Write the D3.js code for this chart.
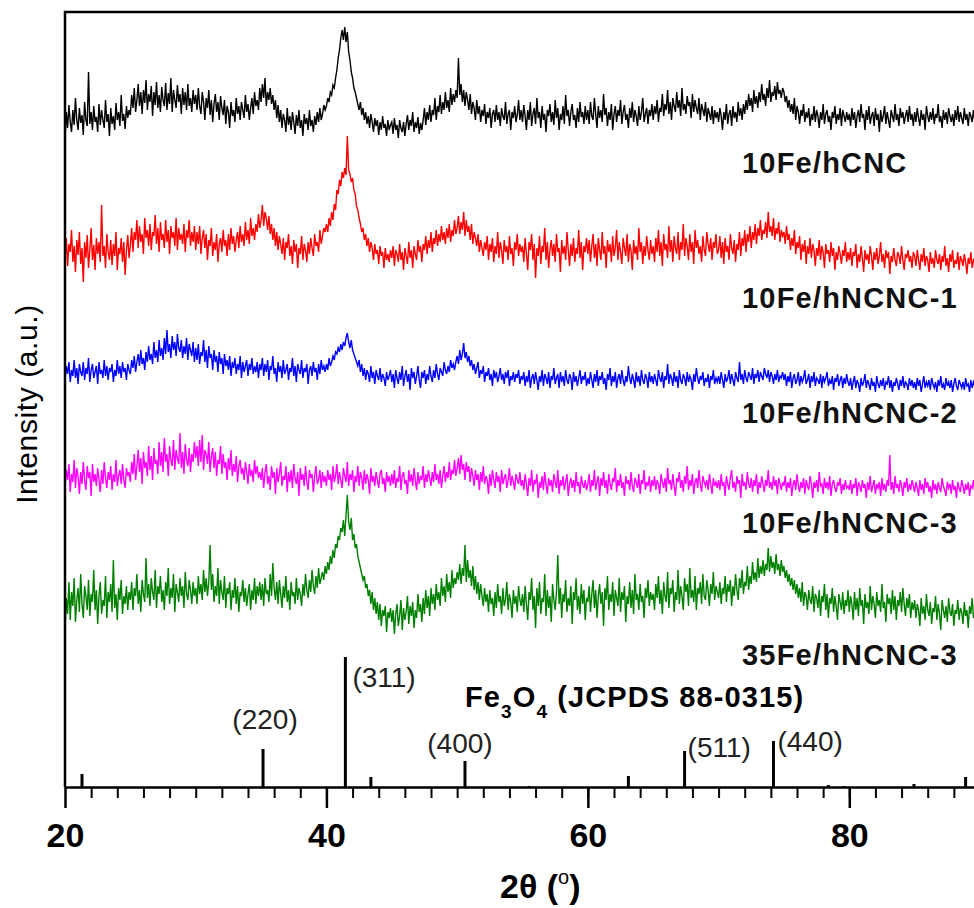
<head>
	<script src="https://d3js.org/d3.v7.min.js"></script>
	<style>
		body { margin: 0; background: #fff; }
		text { font-family: 'Liberation Sans', Arial, sans-serif; }
	</style>
</head>
<body>
	<div id='chart'></div>

	<script type="text/javascript">
		// each series: one row per 5 deg of 2theta (20-25, 25-30, ... 85-90), ~0.1 deg step
		const names = ['10Fe/hCNC', '10Fe/hNCNC-1', '10Fe/hNCNC-2', '10Fe/hNCNC-3', '35Fe/hNCNC-3']
		const colors = ['#000000', '#ff0000', '#0000ff', '#ff00ff', '#008000']
		const offsets = [637, 497, 387, 277, 147]

		const hCNC = [
			[10,38,22,45,28,18,40,25,52,30,20,42,27,35,15,48,30,24,78,26,38,20,44,28,33,18,46,25,40,30,22,50,28,36,14,42,26,34,20,47,30,38,24,55,29,36,21,44,32,40],
			[35,55,42,62,38,50,66,44,58,36,60,47,70,40,56,48,64,34,58,45,68,42,55,38,63,50,44,67,40,57,46,72,38,60,50,42,65,48,56,36,62,45,58,40,66,44,52,38,60,46],
			[55,40,62,44,36,58,48,30,52,42,60,35,50,28,46,56,38,48,30,54,42,35,50,26,44,38,22,48,34,40,28,52,36,44,30,48,40,32,55,38,46,30,42,52,36,58,44,50,40,62],
			[48,66,52,72,44,58,50,62,46,55,40,50,32,45,28,40,22,36,30,18,42,25,34,20,38,28,16,35,24,40,22,30,14,36,26,32,20,40,24,30,18,34,25,38,28,42,30,36,45,40],
			[44,52,48,58,55,65,62,72,80,92,100,112,120,110,123,108,118,98,90,78,72,62,58,52,46,40,48,35,42,30,38,26,34,22,36,28,18,32,24,30,15,28,20,34,22,26,14,30,20,25],
			[28,16,32,20,25,12,30,22,18,28,14,26,35,20,30,24,38,18,28,22,33,16,27,20,30,42,25,38,30,45,28,40,35,52,30,44,38,55,36,48,40,58,42,50,38,62,45,56,48,60],
			[52,92,55,66,48,60,44,58,50,40,56,36,48,42,30,50,36,44,28,40,34,46,26,38,32,42,22,36,40,28,45,30,38,24,42,34,30,48,26,36,40,20,38,32,44,28,35,50,30,40],
			[28,45,34,20,40,30,48,24,36,42,26,52,32,38,22,44,30,36,18,40,34,46,28,38,25,50,32,42,20,36,30,44,26,55,34,40,24,38,46,30,35,22,42,28,48,33,38,26,44,30],
			[40,26,48,34,30,52,36,22,44,32,40,28,56,35,42,24,38,30,46,20,36,44,28,40,34,50,26,38,45,30,36,22,42,32,48,28,40,34,24,44,30,38,52,28,36,42,26,40,34,46],
			[30,44,36,50,28,42,38,56,34,46,40,60,36,48,30,52,44,38,58,42,50,34,62,40,46,36,54,44,48,32,56,38,50,42,36,52,30,46,40,34,48,28,42,36,30,44,26,40,32,38],
			[28,42,34,20,38,30,46,26,36,40,24,44,32,38,28,48,34,42,30,46,36,50,40,56,44,52,38,60,46,54,42,58,48,66,50,56,44,62,52,70,48,58,54,64,50,68,56,60,52,62],
			[58,48,54,42,50,38,46,36,52,30,44,38,26,40,34,46,28,38,32,42,24,36,30,44,28,40,34,22,38,30,46,26,36,40,28,34,20,38,32,44,26,36,30,42,24,40,34,28,38,30],
			[36,24,42,30,38,22,34,40,28,46,32,36,20,40,30,44,26,34,38,24,42,30,36,18,40,28,34,44,26,38,30,22,40,34,28,46,30,36,24,42,32,38,26,34,40,28,44,30,36,24],
			[38,28,42,32,24,40,30,36,20,44,34,28,38,30,42,26,36,32,46,28,34,22,40,30,38,26,42,34,28,36,24,40,30,44,28,38,32,26,42,30,36,24,38,34,28,40,30,36,26,34]]

		const hNCNC1 = [
			[30,52,24,46,38,60,28,44,18,50,35,58,26,42,8,48,32,55,22,40,62,30,45,20,52,36,48,28,85,34,44,22,56,38,30,50,25,46,34,58,20,42,36,52,28,48,15,40,55,32],
			[45,62,38,58,50,70,42,64,48,56,36,72,52,60,44,66,40,58,54,75,46,62,38,68,50,56,42,70,48,60,36,64,52,58,44,72,40,62,50,56,46,66,38,60,52,70,44,58,48,64],
			[40,58,46,64,36,52,60,42,56,30,50,44,62,34,48,40,56,28,46,52,38,60,44,50,34,56,40,62,46,54,38,50,58,42,64,48,56,44,68,50,60,46,72,54,62,50,66,58,76,62],
			[70,85,64,78,72,60,74,56,66,50,62,44,58,40,54,46,36,52,30,48,42,56,34,44,26,50,38,46,22,42,36,54,30,46,40,28,48,36,52,42,34,56,44,48,38,60,46,54,62,58],
			[66,58,72,64,78,70,86,80,100,96,110,104,118,112,122,115,154,120,116,108,112,100,96,84,80,72,66,58,62,50,56,44,52,38,48,42,30,46,36,40,26,44,34,38,22,42,30,36,28,40],
			[32,44,24,40,36,28,46,30,38,20,42,34,26,48,32,40,22,44,36,30,50,38,44,28,46,40,54,36,50,42,58,38,52,46,60,44,56,48,64,50,58,46,62,52,66,48,60,54,70,56],
			[62,74,56,68,60,78,54,70,58,64,50,66,46,58,52,44,56,38,50,42,34,48,40,54,30,46,38,52,28,44,36,58,32,48,40,26,50,38,44,30,54,36,42,24,48,40,56,34,46,38],
			[44,28,52,36,20,48,40,56,30,46,12,42,34,54,26,44,38,62,30,48,22,40,50,34,46,28,56,38,42,18,50,36,44,30,58,40,24,46,34,52,28,42,36,60,32,48,20,44,38,52],
			[36,50,28,44,56,32,46,24,52,40,30,58,36,44,22,50,38,46,28,54,34,42,60,30,48,38,26,52,42,34,56,28,46,40,20,50,36,44,30,62,38,48,26,44,34,54,40,30,50,36],
			[44,28,52,38,60,34,48,24,56,40,46,32,64,38,50,28,54,42,36,58,30,48,40,66,34,52,44,30,56,38,48,26,60,42,50,36,44,28,54,40,34,58,46,38,52,30,48,42,56,36],
			[40,54,32,48,26,52,38,44,30,56,42,36,50,28,46,40,58,34,52,44,60,38,56,48,64,42,58,50,66,46,62,54,70,50,60,56,68,52,78,58,64,54,72,50,62,56,68,48,60,54],
			[58,46,64,50,56,40,52,44,60,36,48,42,54,30,46,38,50,26,44,36,52,32,46,40,24,42,34,50,30,44,38,22,46,36,40,28,48,34,42,20,38,30,44,36,26,40,34,48,28,38],
			[30,42,24,38,34,46,22,36,28,44,32,18,40,30,36,26,44,34,20,38,30,42,26,34,48,28,36,22,40,32,38,16,34,28,42,30,24,38,34,26,44,30,20,36,32,40,28,34,22,38],
			[34,24,40,30,20,36,28,42,24,34,30,18,38,26,32,22,40,30,26,36,20,34,28,44,24,32,18,36,28,40,22,30,26,38,20,34,30,24,36,28,16,32,26,38,22,30,28,36,24,30]]

		const hNCNC2 = [
			[20,34,26,38,18,30,24,40,22,32,16,36,28,24,38,20,32,26,42,18,30,36,22,28,34,16,38,26,30,22,40,24,34,20,32,28,36,18,30,24,40,26,34,22,38,28,32,20,36,30],
			[26,40,32,44,28,38,46,34,50,36,42,30,48,38,54,40,46,36,58,42,50,38,60,44,52,40,62,46,70,48,56,42,64,50,58,44,66,52,48,60,42,54,46,62,40,56,50,44,58,38],
			[52,40,56,36,48,44,60,38,50,32,54,42,46,30,50,38,44,28,48,36,42,26,46,34,40,30,44,24,38,32,42,26,36,30,44,22,38,28,34,40,24,36,30,42,26,34,28,38,22,36],
			[30,42,24,36,28,40,20,34,30,44,26,32,18,38,28,34,22,40,26,30,36,20,32,28,42,24,34,18,36,30,26,40,22,32,28,36,16,30,34,24,38,28,32,20,36,26,40,30,34,28],
			[36,30,42,34,38,44,40,48,46,52,48,56,50,58,54,62,67,58,52,60,50,46,42,38,34,40,28,36,24,32,20,30,26,18,34,22,28,16,30,24,20,32,18,26,22,14,28,20,24,30],
			[18,26,12,30,22,16,28,20,34,14,24,30,18,26,10,32,22,28,16,24,34,20,12,28,22,30,16,26,20,34,24,18,30,22,36,26,20,32,28,24,38,30,26,34,28,40,32,36,30,38],
			[44,36,50,40,46,57,42,48,38,44,34,40,30,36,26,32,38,22,30,26,34,18,28,24,32,20,26,14,30,22,28,18,24,32,20,26,16,28,22,30,14,24,20,28,18,26,22,30,16,24],
			[20,28,14,24,18,30,12,22,26,16,28,20,10,24,18,30,14,26,22,16,28,12,24,20,32,16,22,26,12,28,18,24,14,30,20,16,26,22,10,28,18,24,14,22,30,16,24,20,28,14],
			[22,16,28,20,12,26,18,30,14,24,20,28,16,22,10,26,20,32,14,24,18,28,12,22,26,16,30,20,14,24,18,34,22,16,26,20,12,28,18,24,14,30,20,16,26,22,12,28,18,24],
			[16,26,20,14,30,22,18,28,12,24,20,36,16,26,22,14,28,18,24,12,30,20,16,26,22,14,28,18,24,20,10,26,18,32,22,16,24,20,28,14,22,18,26,12,24,20,30,16,22,18],
			[24,16,28,20,12,26,18,22,30,16,26,20,14,28,22,18,38,20,26,16,30,22,18,28,24,20,32,16,26,22,30,18,28,24,20,32,26,22,30,18,28,24,16,26,20,30,18,24,22,28],
			[20,26,14,24,18,28,12,22,26,16,20,28,14,24,18,22,30,16,20,26,12,24,18,28,14,22,20,16,26,12,24,18,22,28,14,20,16,24,10,22,18,26,14,20,24,12,22,16,26,18],
			[14,22,10,18,24,12,20,16,8,22,14,18,26,12,20,16,10,22,14,18,8,24,16,12,20,14,22,10,18,16,24,12,20,8,18,14,22,16,10,20,14,24,12,18,16,10,22,14,20,12],
			[18,10,22,14,20,8,16,24,12,18,14,20,10,22,16,12,18,8,20,14,24,12,16,10,22,14,18,12,20,8,16,22,14,10,20,16,12,18,10,22,14,16,8,20,12,18,14,10,20,16]]

		const hNCNC3 = [
			[24,40,30,46,18,36,28,50,22,42,34,16,38,26,48,30,20,44,32,38,14,46,28,36,24,42,30,18,40,26,48,32,22,38,30,44,20,36,28,50,24,34,40,26,46,30,22,42,34,38],
			[28,48,36,56,30,44,60,38,52,26,58,42,48,34,64,40,54,30,62,46,50,36,68,44,58,38,72,48,56,34,64,50,44,70,40,60,52,46,77,42,58,36,66,50,44,62,38,56,48,68],
			[52,64,44,70,48,75,40,60,56,46,68,38,54,62,42,58,34,50,46,64,36,56,42,48,30,52,40,60,34,46,38,54,28,44,50,36,42,30,48,38,26,46,34,40,28,50,36,44,32,38],
			[30,42,22,38,46,26,34,20,44,32,38,16,42,28,36,48,24,34,30,44,18,38,28,40,22,46,32,26,38,14,42,30,36,24,44,28,20,40,32,36,18,34,44,26,30,40,22,38,28,34],
			[24,40,30,36,20,44,28,34,46,26,38,30,22,42,34,28,48,24,36,30,40,18,34,28,44,24,38,32,20,40,26,36,30,16,42,28,34,24,38,30,22,36,40,26,32,18,38,28,34,24],
			[36,26,40,22,32,28,44,20,34,38,26,30,16,40,28,36,24,42,30,20,38,26,34,30,44,22,36,28,40,32,24,38,28,46,30,36,26,40,22,34,44,28,38,32,48,30,40,36,50,34],
			[42,52,36,55,40,46,30,48,38,44,28,42,34,24,40,30,36,20,38,28,44,26,34,30,16,36,24,40,30,22,38,28,34,18,40,26,32,36,22,30,42,24,34,28,20,36,30,26,38,24],
			[30,20,36,26,14,32,24,40,18,30,26,36,12,28,22,34,20,38,26,16,32,24,30,18,36,28,22,40,16,30,24,34,20,28,36,14,26,32,22,30,18,38,24,28,16,34,26,22,30,20],
			[26,36,18,30,24,40,20,28,34,14,32,24,38,22,30,16,36,26,20,32,28,42,18,30,24,36,22,28,14,34,26,30,20,38,24,18,32,28,22,36,16,30,26,40,20,28,24,34,18,30],
			[24,34,20,30,26,16,36,28,22,32,18,42,26,30,20,36,24,14,32,28,38,22,30,18,34,26,44,20,30,24,36,16,28,32,22,40,26,18,34,28,24,30,20,36,26,16,32,24,28,22],
			[30,20,36,24,28,14,34,26,20,32,40,22,28,18,34,26,30,12,36,24,28,20,38,26,22,32,18,30,24,36,16,28,22,34,26,18,30,24,40,22,28,20,34,24,30,16,32,26,20,28],
			[24,34,18,28,22,32,14,26,30,20,36,24,18,28,22,32,16,30,24,20,34,26,12,28,22,30,18,38,24,26,16,32,22,28,20,34,14,26,30,22,18,28,24,32,16,26,20,30,22,24],
			[20,30,16,26,22,32,14,28,24,18,30,22,26,12,28,20,34,18,24,30,16,26,22,28,14,32,20,26,18,30,24,55,20,28,16,34,22,26,18,30,24,14,28,22,32,18,26,20,30,24],
			[18,28,22,14,30,20,26,16,32,22,28,18,24,12,30,20,26,16,28,22,18,32,24,20,14,28,22,26,16,30,20,24,12,28,22,18,30,24,16,26,20,28,14,24,22,30,18,26,20,24]]

		const hNCNC3_35 = [
			[10,42,26,58,20,48,34,62,18,40,52,28,66,36,22,54,44,30,60,24,46,38,70,30,50,16,44,58,26,40,34,64,22,48,38,56,28,80,32,46,20,52,40,60,26,44,36,54,30,48],
			[40,58,30,52,44,66,36,50,28,60,46,38,82,42,56,34,62,48,40,70,32,54,46,64,38,50,30,58,44,72,36,52,42,66,28,56,48,38,62,44,54,32,68,46,40,60,50,36,58,44],
			[52,36,64,46,56,40,70,48,62,44,58,95,50,66,38,54,44,72,36,60,48,40,64,32,52,46,58,30,50,42,62,36,54,28,48,44,60,38,52,34,46,56,30,50,40,62,36,54,44,58],
			[40,56,34,62,46,50,38,66,44,77,52,40,58,36,60,46,32,54,42,64,38,50,30,58,44,48,36,62,40,52,46,34,56,44,66,50,42,60,48,70,54,46,64,52,72,56,62,68,60,74],
			[66,78,70,84,76,90,82,96,92,104,100,112,108,120,104,125,145,118,110,122,100,106,92,96,84,78,72,66,60,64,52,56,44,50,36,48,30,42,26,38,20,36,14,30,24,34,8,28,22,32],
			[18,30,6,26,36,14,24,40,10,32,20,28,44,16,34,24,38,12,30,22,46,28,36,18,42,26,50,32,44,24,52,36,46,30,56,40,48,34,62,44,54,38,66,48,58,42,70,52,62,56],
			[68,60,76,56,72,64,95,58,80,62,70,54,74,50,64,46,58,40,56,44,34,52,38,46,28,50,36,42,24,48,32,56,38,44,26,52,34,40,58,30,46,38,22,50,36,44,28,54,40,34],
			[46,28,54,36,20,48,40,62,30,44,12,52,34,58,26,42,38,66,24,50,32,44,18,56,40,30,48,85,36,52,22,46,38,60,28,42,34,54,16,48,40,62,30,44,26,56,36,50,20,42],
			[38,54,28,46,60,32,50,22,44,56,36,48,14,52,40,64,30,46,38,58,24,50,42,34,62,28,48,40,54,18,44,36,58,32,50,26,66,40,46,30,56,38,44,22,52,42,60,34,48,40],
			[46,30,56,42,64,36,50,26,58,44,38,68,32,52,46,60,28,48,40,70,36,54,44,30,62,48,56,34,72,42,50,38,64,30,52,46,58,36,66,44,40,60,50,34,56,46,68,40,54,48],
			[42,58,36,52,46,64,38,56,48,60,34,54,44,66,50,40,62,52,70,46,58,54,74,50,64,56,78,60,68,58,82,62,74,66,80,64,76,70,92,68,84,72,78,66,86,70,76,64,80,68],
			[74,62,70,58,66,54,62,50,60,46,56,42,52,38,58,34,48,44,30,50,40,36,54,28,46,42,32,50,24,44,38,56,30,46,22,42,36,52,28,44,34,20,46,38,30,48,26,40,34,50],
			[28,44,36,20,48,30,42,24,52,34,40,16,46,32,38,26,54,30,44,36,22,48,34,40,28,56,32,38,18,46,36,42,26,50,30,44,20,40,34,48,28,52,36,24,42,32,46,22,38,30],
			[40,22,36,30,14,42,26,34,20,46,30,24,38,16,32,28,44,20,36,26,10,40,30,22,34,18,42,28,24,36,14,30,26,40,20,32,28,16,38,24,30,12,34,26,42,22,28,18,36,24]]

		const series = [hCNC, hNCNC1, hNCNC2, hNCNC3, hNCNC3_35]

		// Fe3O4 reference pattern (JCPDS 88-0315)
		const refPos = [21.3, 35.15, 41.45, 43.4, 50.6, 55.5, 63.1, 67.4, 74.2, 78.4, 79.6, 84.95, 88.9]
		const refInt = [13, 38, 130, 10, 26, 1, 11, 36, 46, 2, 1, 3, 10]
		const hklNames = ['(220)', '(311)', '(400)', '(511)', '(440)']
		const hklPos = [35.15, 41.45, 50.6, 67.4, 74.2]
		const hklInt = [38, 130, 26, 36, 46]

		const W = 974, H = 908
		const svg = d3.select('#chart').append('svg')
			.attr('width', W)
			.attr('height', H)

		const x = d3.scaleLinear().domain([20, 90]).range([65, 980])
		const y = d3.scaleLinear().domain([0, 775]).range([787, 12])

		// traces
		const line = d3.line()
		series.forEach((rows, k) => {
			const pts = rows.flatMap((row, r) => row.map((v, j) => [x(20 + 5 * r + j * 5 / row.length), y(v + offsets[k])]))
			svg.append('path')
				.attr('d', line(pts))
				.style('fill', 'none')
				.style('stroke', colors[k])
				.style('stroke-width', 1.4)
		})

		// reference sticks
		svg.append('g').selectAll('line')
			.data(refPos)
			.enter().append('line')
			.attr('x1', d => x(d)).attr('x2', d => x(d))
			.attr('y1', y(0))
			.attr('y2', (d, i) => y(refInt[i]))
			.style('stroke', '#000')
			.style('stroke-width', 3)

		// hkl labels: [dx, dy from stick top, anchor]
		const nudge = {'(220)': [2, -20, 'middle'], '(311)': [7, 30, 'start'], '(400)': [-5, -8, 'middle'],
			'(511)': [3, 6, 'start'], '(440)': [4, 10, 'start']}
		svg.append('g').selectAll('text')
			.data(hklNames)
			.enter().append('text')
			.attr('x', (d, i) => x(hklPos[i]) + nudge[d][0])
			.attr('y', (d, i) => y(hklInt[i]) + nudge[d][1])
			.attr('text-anchor', d => nudge[d][2])
			.style('font-size', '28px')
			.style('fill', '#222')
			.text(d => d)

		const fe = svg.append('text')
			.attr('x', 465).attr('y', 707)
			.style('font-size', '29px').style('font-weight', 'bold').style('letter-spacing', '1.1px')
		fe.append('tspan').text('Fe')
		fe.append('tspan').attr('dy', 11).style('font-size', '19px').text('3')
		fe.append('tspan').attr('dy', -11).text('O')
		fe.append('tspan').attr('dy', 11).style('font-size', '19px').text('4')
		fe.append('tspan').attr('dy', -11).text(' (JCPDS 88-0315)')

		// series labels
		const labelY = [173, 308, 423, 533, 665]
		svg.append('g').selectAll('text')
			.data(names)
			.enter().append('text')
			.attr('x', 742)
			.attr('y', (d, i) => labelY[i])
			.style('font-size', '29px').style('font-weight', 'bold').style('letter-spacing', '1.2px')
			.style('fill', '#111')
			.text(d => d)

		// axes
		const minor = svg.append('g')
			.attr('transform', 'translate(0,' + y(0) + ')')
			.call(d3.axisBottom(x).tickValues(d3.range(22, 90, 2)).tickSize(11).tickSizeOuter(0).tickFormat(''))
		minor.selectAll('line').style('stroke-width', 2)
		minor.select('.domain').style('stroke-width', 2.5)

		const major = svg.append('g')
			.attr('transform', 'translate(0,' + y(0) + ')')
			.call(d3.axisBottom(x).tickValues([20, 40, 60, 80]).tickSize(21).tickSizeOuter(0).tickPadding(15).tickFormat(d3.format('d')))
		major.select('.domain').remove()
		major.selectAll('line').style('stroke-width', 2.5)
		major.selectAll('text')
			.style('font-family', "'Liberation Sans', Arial, sans-serif")
			.style('font-size', '34px').style('font-weight', 'bold').style('fill', '#000')

		// frame: left and top
		svg.append('line').attr('x1', 65).attr('x2', 65).attr('y1', 11).attr('y2', y(0))
			.style('stroke', '#000').style('stroke-width', 2.5)
		svg.append('line').attr('x1', 64).attr('x2', W).attr('y1', 12).attr('y2', 12)
			.style('stroke', '#000').style('stroke-width', 2.5)

		// titles
		const xt = svg.append('text')
			.attr('x', 500).attr('y', 898)
			.style('font-size', '34px').style('font-weight', 'bold')
		xt.append('tspan').text('2\u03b8 (')
		xt.append('tspan').attr('dy', -14).style('font-size', '20px').style('font-weight', 'normal').text('o')
		xt.append('tspan').attr('dy', 14).text(')')

		svg.append('text')
			.attr('transform', 'translate(37,404) rotate(-90)')
			.attr('text-anchor', 'middle')
			.style('font-size', '30px')
			.style('letter-spacing', '0.6px')
			.text('Intensity (a.u.)')
	</script>
</body>
